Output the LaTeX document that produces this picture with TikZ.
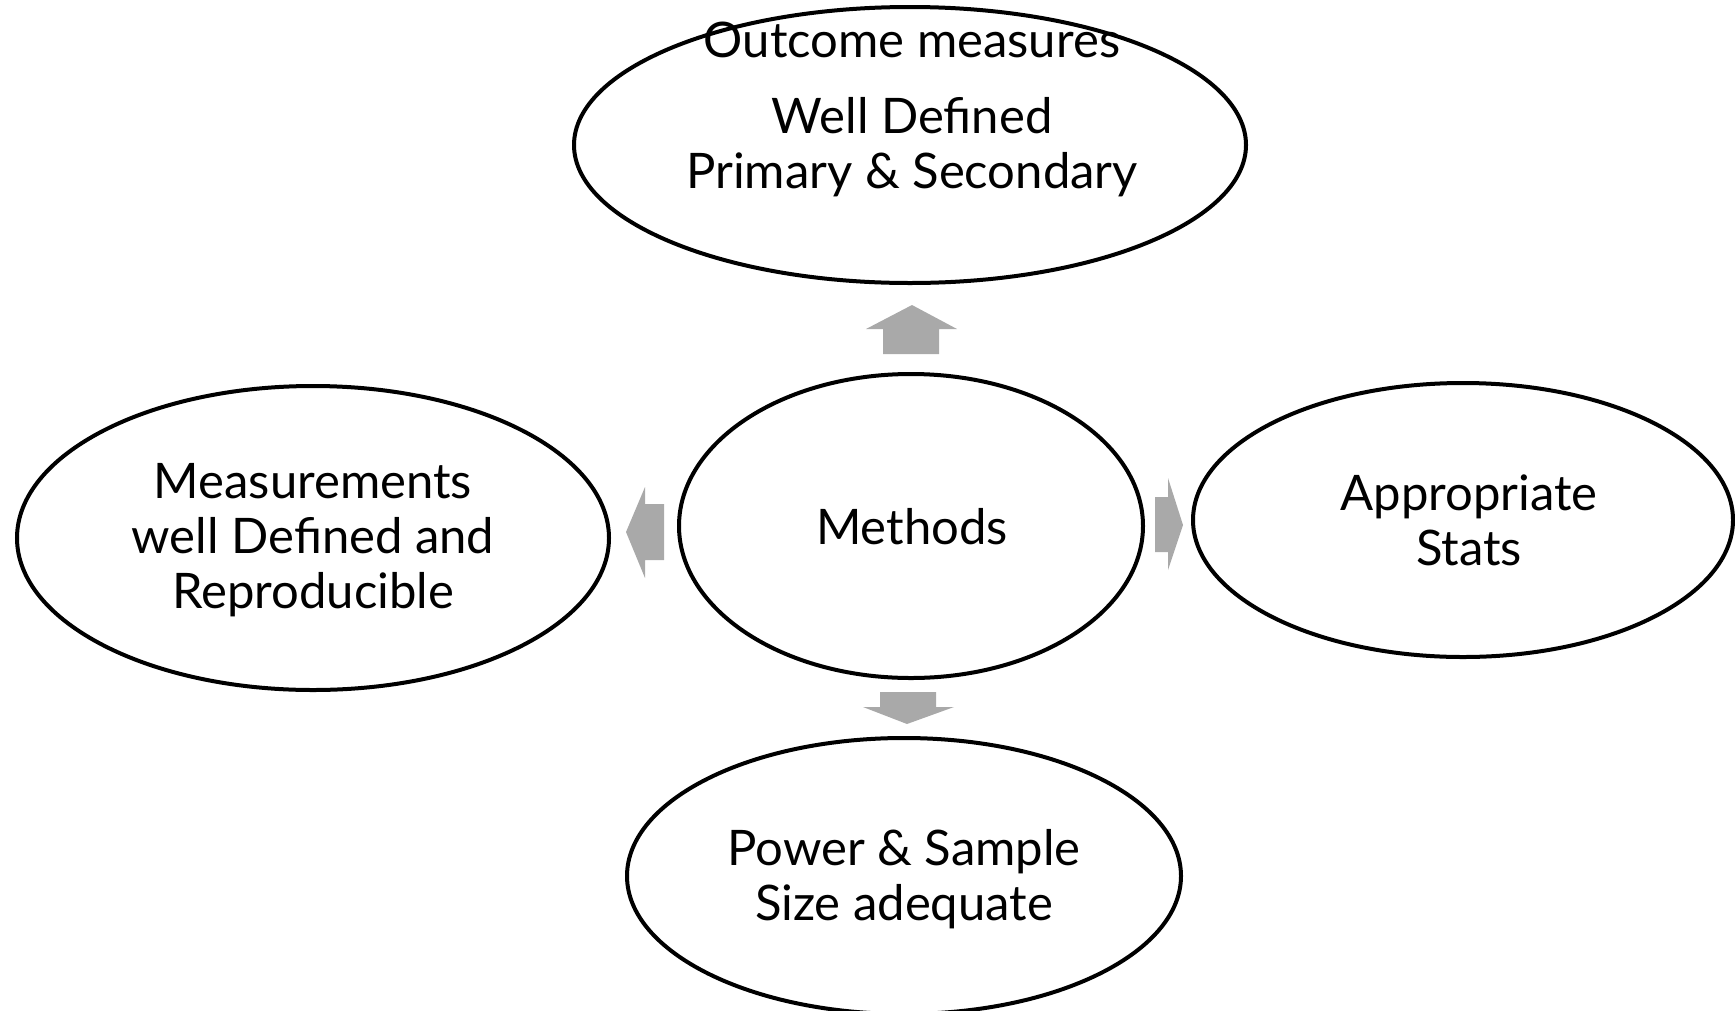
\documentclass[tikz,border=0pt]{standalone}
\usepackage{fontspec}
\setmainfont{Lato}
\usetikzlibrary{shapes.geometric}
\tikzset{
  bub/.style={draw=black, line width=4pt, ellipse, inner sep=0pt},
  lbl/.style={align=center, font=\fontsize{49}{55}\selectfont, inner sep=0pt},
  blk/.style={fill=arrowgray, draw=none}
}
\definecolor{arrowgray}{HTML}{A9A9A9}
\begin{document}
\begin{tikzpicture}[x=1pt,y=-1pt]
\useasboundingbox (0,0) rectangle (1735,1010);
% ellipses
\node[bub, minimum width=672pt, minimum height=276pt] (top) at (910,145) {};
\node[bub, minimum width=464pt, minimum height=304pt] (mid) at (911,526) {};
\node[bub, minimum width=592pt, minimum height=304pt] (left) at (313,538) {};
\node[bub, minimum width=540pt, minimum height=274pt] (right) at (1463,520) {};
\node[bub, minimum width=554pt, minimum height=276pt] (bot) at (904,876) {};
% labels
\node[lbl] (toptitle) at (912,40) {Outcome measures};
\node[lbl] (toptext) at (912,147) {Well Defined\\Primary \& Secondary};
\node[lbl] (midtext) at (912,527) {Methods};
\node[lbl] (lefttext) at (313,540) {Measurements\\well Defined and\\Reproducible};
\node[lbl] (righttext) at (1469,520) {Appropriate\\Stats};
\node[lbl] (bottext) at (904,879) {Power \& Sample\\Size adequate};
% block arrows
\fill[blk] (912,305) -- (957,329) -- (939,329) -- (939,354) -- (883,354) -- (883,329) -- (866,329) -- cycle;
\fill[blk] (626,532) -- (645,487) -- (645,504) -- (664,504) -- (664,560) -- (645,560) -- (645,578) -- cycle;
\fill[blk] (1183,525) -- (1168,570) -- (1168,552) -- (1155,552) -- (1155,497) -- (1168,497) -- (1168,478) -- cycle;
\fill[blk] (907,724) -- (863,707) -- (880,707) -- (880,692) -- (936,692) -- (936,707) -- (954,707) -- cycle;
\end{tikzpicture}
\end{document}
